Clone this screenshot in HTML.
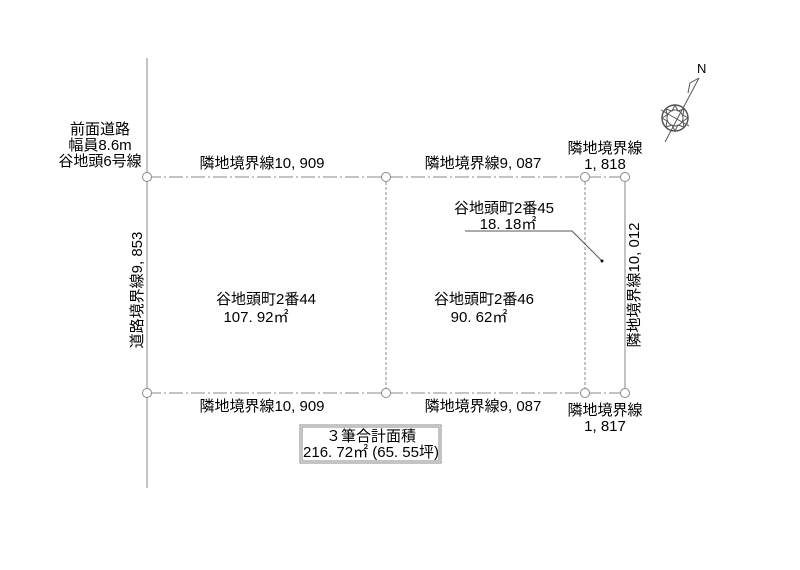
<!DOCTYPE html>
<html><head><meta charset="utf-8"><style>
body{margin:0;background:#fff}
svg text{font-family:"Liberation Sans","Noto Sans CJK JP",sans-serif;font-size:15px;fill:#000}
</style></head><body>
<svg width="800" height="565" viewBox="0 0 800 565" xmlns="http://www.w3.org/2000/svg">
<g stroke="#888" fill="none" stroke-width="1">
<line x1="147" y1="58" x2="147" y2="488"/>
<line x1="147" y1="177" x2="625" y2="177" stroke-dasharray="14,3,2,3"/>
<line x1="147" y1="393" x2="625" y2="393" stroke-dasharray="14,3,2,3"/>
<line x1="386" y1="177" x2="386" y2="393" stroke-dasharray="3,2"/>
<line x1="585" y1="177" x2="585" y2="393" stroke-dasharray="3,2"/>
<line x1="625" y1="177" x2="625" y2="393"/>
<circle cx="147" cy="177" r="4.5" fill="#fff"/><circle cx="386" cy="177" r="4.5" fill="#fff"/><circle cx="585" cy="177" r="4.5" fill="#fff"/><circle cx="625" cy="177" r="4.5" fill="#fff"/>
<circle cx="147" cy="393" r="4.5" fill="#fff"/><circle cx="386" cy="393" r="4.5" fill="#fff"/><circle cx="585" cy="393" r="4.5" fill="#fff"/><circle cx="625" cy="393" r="4.5" fill="#fff"/>
<polyline points="465,231 572,231 602,261" stroke="#555"/>
<rect x="300" y="425" width="141" height="38"/>
<rect x="302" y="427" width="137" height="34"/>
</g>
<circle cx="602" cy="261" r="1.5" fill="#111"/>
<g stroke="#555" fill="none" stroke-width="1">
<line x1="665" y1="142" x2="699" y2="78"/>
<circle cx="675" cy="118" r="13" stroke-width="1.5"/>
<circle cx="675" cy="118" r="8"/>
<polygon points="675,105 678,111 684,109 683,115 688,118 683,121 684,127 678,125 675,131 672,125 666,127 667,121 662,118 667,115 666,109 672,111"/>
<line x1="661" y1="110" x2="689" y2="126"/>
<polyline points="688,93 690,83 699,78"/>
</g>
<text x="697" y="73" style="font-size:13px">N</text>
<g text-anchor="middle">
<text x="100" y="134">前面道路</text>
<text x="100" y="150">幅員8.6m</text>
<text x="100" y="166">谷地頭6号線</text>
<text x="262" y="168">隣地境界線10, 909</text>
<text x="483" y="168">隣地境界線9, 087</text>
<text x="605" y="153">隣地境界線</text>
<text x="605" y="169">1, 818</text>
<text x="504" y="213">谷地頭町2番45</text>
<text x="508" y="229">18. 18㎡</text>
<text x="266" y="304">谷地頭町2番44</text>
<text x="256" y="322">107. 92㎡</text>
<text x="484" y="304">谷地頭町2番46</text>
<text x="479" y="322">90. 62㎡</text>
<text x="262" y="411">隣地境界線10, 909</text>
<text x="483" y="411">隣地境界線9, 087</text>
<text x="605" y="415">隣地境界線</text>
<text x="605" y="431">1, 817</text>
<text x="371" y="441">３筆合計面積</text>
<text x="371" y="457">216. 72㎡ (65. 55坪)</text>
<text transform="translate(142,290) rotate(-90)">道路境界線9, 853</text>
<text transform="translate(639,285) rotate(-90)">隣地境界線10, 012</text>
</g>
</svg>
</body></html>
